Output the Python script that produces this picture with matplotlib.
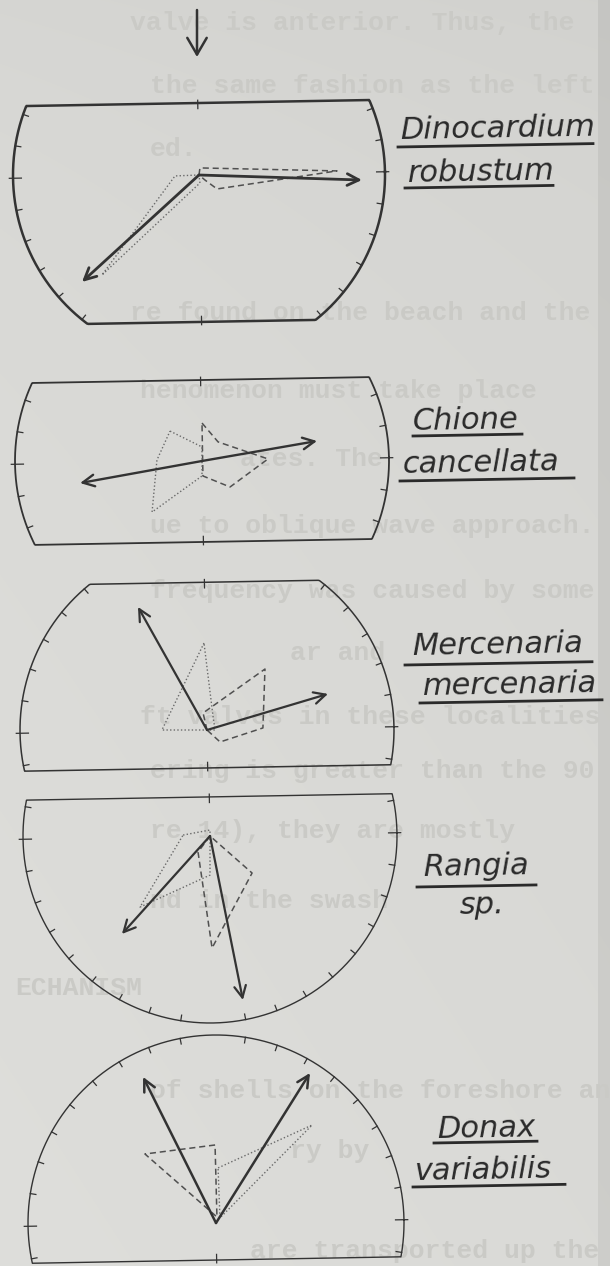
import numpy as np
import matplotlib.pyplot as plt
from matplotlib.patches import FancyArrowPatch
from matplotlib.transforms import Affine2D

# ---------------------------------------------------------------------------
# data : orientation diagrams, values in units of the circle radius
# ---------------------------------------------------------------------------
name_line1 = ["Dinocardium", "Chione", "Mercenaria", "Rangia", "Donax"]
name_line2 = ["robustum", "cancellata", "mercenaria", "sp.", "variabilis"]

# horizontal chords cutting the circle (None = not cut)
chord_top = [0.387, 0.433, 0.79, 0.209, None]
chord_bottom = [-0.79, -0.433, -0.203, None, -0.197]

# resultant vectors, tip positions
vector_a = [(0.876, -0.027), (0.615, 0.107), (0.647, 0.193), (0.176, -0.877), (0.500, 0.798)]
vector_b = [(-0.629, -0.575), (-0.652, -0.118), (-0.369, 0.658), (-0.471, -0.524), (-0.388, 0.777)]

# frequency polygons
dashed_poly = [
    [(0, 0), (0.005, 0.038), (0.742, 0.022), (0.097, -0.075), (0.032, -0.027)],
    [(0, 0.203), (0.086, 0.102), (0.353, 0.011), (0.150, -0.139), (0.005, -0.080)],
    [(0, 0), (-0.021, 0.091), (0.310, 0.326), (0.299, 0.011), (0.070, -0.064)],
    [(0, 0), (-0.064, -0.086), (0.011, -0.599), (0.225, -0.198)],
    [(-0.005, 0.415), (-0.378, 0.367), (0.005, 0.032)],
]
dotted_poly = [
    [(0, 0), (-0.129, -0.005), (-0.522, -0.538), (0.005, -0.043)],
    [(-0.171, 0.160), (0, 0.075), (0, -0.080), (-0.267, -0.273), (-0.241, 0.005)],
    [(-0.016, 0.465), (-0.241, 0.0), (0.043, 0.0), (0.032, 0.075)],
    [(-0.144, 0.005), (0, 0.032), (0, -0.209), (-0.374, -0.380)],
    [(0.011, 0.293), (0.511, 0.521), (0.021, 0.027)],
]

# faint typescript showing through the photographic print
ghost_text = [
    "valve is anterior. Thus, the", "the same fashion as the left", "ed.",
    "re found on the beach and the", "henomenon must take place",
    "ates. The", "ue to oblique wave approach.",
    "frequency was caused by some", "ar and",
    "ft valves in these localities", "ering is greater than the 90",
    "re 14), they are mostly", "nd in the swash", "ECHANISM",
    "of shells on the foreshore an", "ry by", "are transported up the",
]

# ---------------------------------------------------------------------------
# layout (pixels)
# ---------------------------------------------------------------------------
cx = [199, 202, 207, 210, 216]
cy = [175, 461, 730, 836, 1223]
rad = [186, 187, 187, 187, 188]
frame_lw = [1.8, 1.3, 1.1, 1.0, 1.0]
arrow_lw = [2.0, 1.7, 1.6, 1.6, 1.8]
tilt = 1.0

lab1_xy = [(400, 139), (413, 430), (412, 655), (423, 876), (437, 1138)]
lab1_ul = [(398, 593, 147), (413, 522, 436), (405, 592, 665), (417, 536, 887), (434, 537, 1143)]
lab2_xy = [(408, 182), (403, 473), (423, 695), (460, 914), (415, 1180)]
lab2_ul = [(405, 553, 188), (400, 574, 481), (420, 602, 703), None, (413, 565, 1187)]

ghost_xy = [(130, 30), (150, 93), (150, 156), (130, 320), (140, 398), (240, 466),
            (150, 533), (150, 598), (290, 660), (140, 724), (150, 778), (150, 838),
            (150, 908), (15, 995), (150, 1098), (290, 1158), (250, 1258)]

ink = "#333333"

fig = plt.figure(figsize=(6.1, 12.66), dpi=100)
ax = fig.add_axes([0, 0, 1, 1])
ax.set_xlim(0, 610)
ax.set_ylim(1266, 0)
ax.axis("off")

# paper background
yy, xx = np.mgrid[0:1266, 0:610]
shade = 0.85 + 0.02 * (yy / 1266) - 0.015 * (xx / 610)
shade = shade - 0.012 * np.exp(-yy / 150.0)
shade[:, 598:] -= 0.05
bg = np.dstack([shade, shade, shade - 0.012])
ax.imshow(np.clip(bg, 0, 1), extent=[0, 610, 1266, 0], aspect="auto", zorder=0)

for t, (gx, gy) in zip(ghost_text, ghost_xy):
    ax.text(gx, gy, t, family="Liberation Mono", fontweight="bold", fontsize=19,
            color="#cacac6", va="baseline", ha="left", zorder=1)

# top arrow
ax.add_patch(FancyArrowPatch((197, 10), (197, 57), arrowstyle="->,head_length=1.2,head_width=0.7",
                             mutation_scale=10, lw=1.8, color=ink, shrinkA=0, shrinkB=0, zorder=5))

theta = np.linspace(0, 2 * np.pi, 721)
for i in range(5):
    frame = Affine2D().rotate_deg(tilt).scale(rad[i], -rad[i]).translate(cx[i], cy[i]) + ax.transData
    tr = Affine2D().scale(rad[i], -rad[i]).translate(cx[i], cy[i]) + ax.transData
    vt = chord_top[i] if chord_top[i] is not None else 1.0
    vb = chord_bottom[i] if chord_bottom[i] is not None else -1.0

    # outline : circle cut by the chords
    ax.plot(np.cos(theta), np.clip(np.sin(theta), vb, vt), color=ink, lw=frame_lw[i],
            transform=frame, zorder=3, solid_joinstyle="miter")

    # 10 degree ticks on the arcs
    for d in range(0, 360, 10):
        a = np.radians(d)
        s = np.sin(a)
        if s > vt - 0.005 or s < vb + 0.005:
            continue
        r0, r1 = (1.02, 0.955) if d % 90 == 0 else (1.0, 0.97)
        ax.plot([r0 * np.cos(a), r1 * np.cos(a)], [r0 * s, r1 * s], color=ink,
                lw=0.9, transform=frame, zorder=3)
    # centre ticks on the chords
    if chord_top[i] is not None:
        ax.plot([0, 0], [vt + 0.015, vt - 0.03], color=ink, lw=0.9, transform=frame, zorder=3)
    if chord_bottom[i] is not None:
        ax.plot([0, 0], [vb - 0.015, vb + 0.03], color=ink, lw=0.9, transform=frame, zorder=3)

    # frequency polygons
    px, py = zip(*(dashed_poly[i] + dashed_poly[i][:1]))
    ax.plot(px, py, color="#505050", lw=1.1, ls=(0, (4, 2.5)), transform=tr, zorder=4)
    px, py = zip(*(dotted_poly[i] + dotted_poly[i][:1]))
    ax.plot(px, py, color="#6a6a6a", lw=1.0, ls=(0, (1, 1.6)), transform=tr, zorder=4)

    # resultant vectors
    for tip in (vector_a[i], vector_b[i]):
        ax.add_patch(FancyArrowPatch((0, 0), tip, transform=tr,
                                     arrowstyle="->,head_length=0.7,head_width=0.35",
                                     mutation_scale=12, lw=arrow_lw[i], color=ink,
                                     shrinkA=0, shrinkB=0, zorder=5))

    # species label
    for txt, (lx, ly), ul in ((name_line1[i], lab1_xy[i], lab1_ul[i]),
                              (name_line2[i], lab2_xy[i], lab2_ul[i])):
        ax.text(lx, ly, txt, family="DejaVu Sans", style="italic", fontsize=22,
                color="#2a2a2a", va="baseline", ha="left", rotation=tilt,
                rotation_mode="anchor", zorder=6)
        if ul is not None:
            x0, x1, uy = ul
            ax.plot([x0, x1], [uy + 0.0, uy - (x1 - x0) * np.tan(np.radians(tilt))],
                    color="#2a2a2a", lw=2.0, zorder=6)

fig.savefig("out.png", dpi=100)
